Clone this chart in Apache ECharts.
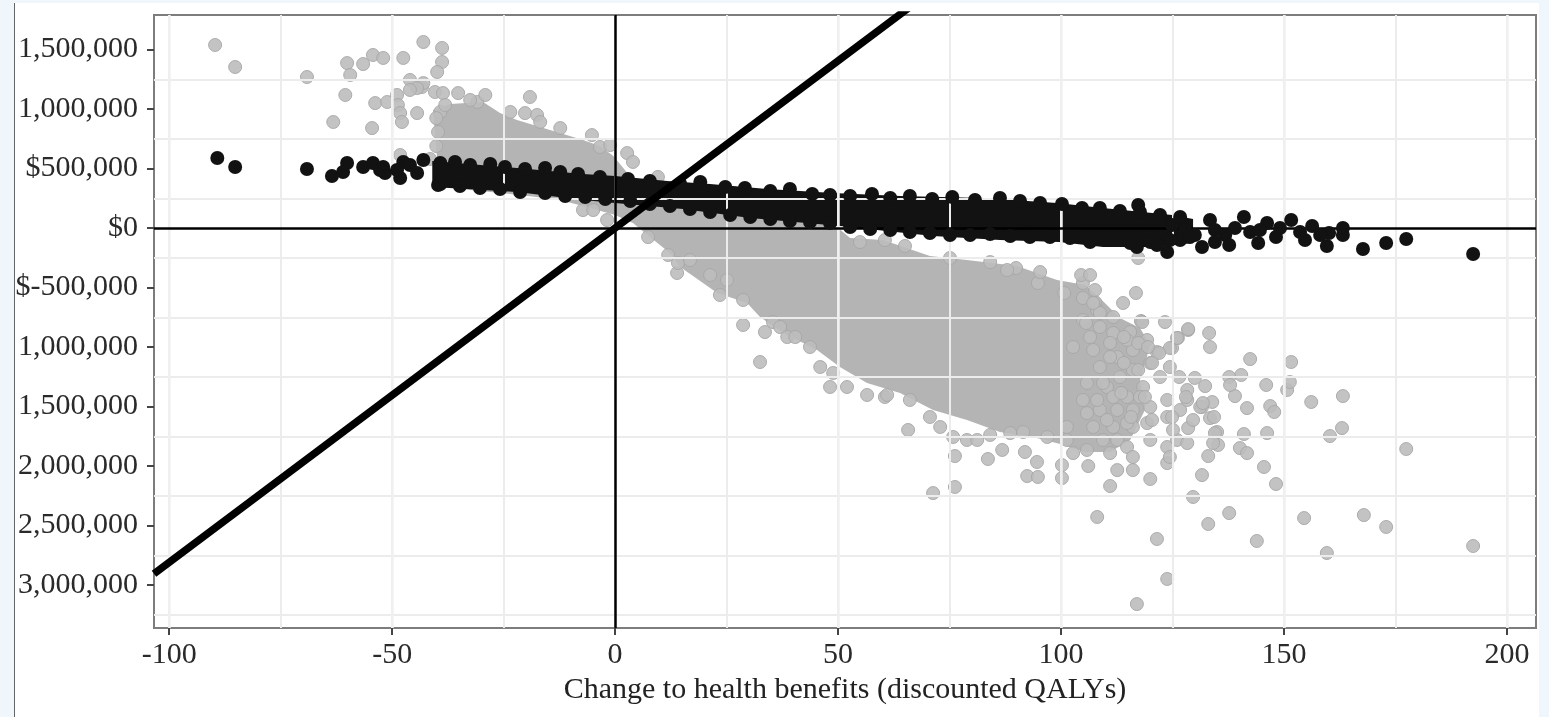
<!DOCTYPE html>
<html>
<head>
<meta charset="utf-8">
<script src="https://cdn.jsdelivr.net/npm/echarts@6/dist/echarts.min.js"></script>
<style>
html,body{margin:0;padding:0;background:#eff6fc;width:1549px;height:717px;overflow:hidden}
#paper{position:absolute;left:14px;top:3px;width:1525px;height:714px;background:#fff;border-left:1px solid #666;box-sizing:border-box}
#chart{position:absolute;left:0;top:0;width:1549px;height:717px}
</style>
</head>
<body>
<div id="paper"></div>
<div id="chart"></div>
<script>
// ---------- axis ticks & labels ----------
const xTicks = [-100, -50, 0, 50, 100, 150, 200];
const xTickLabels = ['-100', '-50', '0', '50', '100', '150', '200'];
const yTicks = [-3000000, -2500000, -2000000, -1500000, -1000000, -500000, 0, 500000, 1000000, 1500000];
const yTickLabels = ['3,000,000', '2,500,000', '2,000,000', '1,500,000', '1,000,000', '$-500,000', '$0', '$500,000', '1,000,000', '1,500,000'];
const xGridLines = [-100, -75, -50, -25, 0, 25, 50, 75, 100, 125, 150, 175, 200];
const yGridLines = [1250000, 750000, 250000, -250000, -750000, -1250000, -1750000, -2250000, -2750000, -3250000];
const xMajorOverlay = [-100, -50, 50, 100, 150, 200];
const xRange = [-103.4, 206.5];
const yRange = [-3361000, 1790000];
const xTitle = 'Change to health benefits (discounted QALYs)';
// willingness-to-pay threshold (cost per QALY)
const WTP = 28100;

// ---------- dense core of the grey cloud (outline) ----------
const grayCore = [
[-40.1,655000],[-40.8,992000],[-37.0,1042000],[-29.6,1059000],[-25.8,966000],[-22.0,908000],[-14.6,824000],[-7.2,739000],[-3.4,689000],[-0.4,605000],[2.2,487000],[5.6,319000],[19.1,193000],[39.2,109000],[50.0,0],[52.7,-84000],[60.1,-101000],[70.6,-235000],[78.9,-269000],[90.1,-319000],[99.1,-437000],[105.4,-479000],[108.7,-588000],[113.2,-756000],[117.7,-840000],[120.0,-983000],[117.7,-1277000],[118.8,-1529000],[115.5,-1781000],[111.0,-1882000],[105.4,-1882000],[99.8,-1815000],[93.7,-1756000],[86.3,-1714000],[78.9,-1613000],[71.3,-1529000],[63.9,-1386000],[56.5,-1302000],[50.4,-1168000],[45.3,-1025000],[37.7,-882000],[32.5,-748000],[29.6,-630000],[22.9,-546000],[14.6,-328000],[12.3,-210000],[7.8,-76000],[4.0,42000],[0,109000],[-5.6,168000],[-12.3,235000],[-21.3,277000],[-32.5,319000],[-39.2,361000]
];

// ---------- individual grey points ----------
const grayPts = [
[-89.7,1538000],[-85.2,1353000],[-69.1,1269000],[-63.2,891000],[-60.5,1118000],[-60.1,1386000],[-59.4,1286000],[-56.5,1378000],[-54.5,840000],[-54.3,1454000],[-53.8,1050000],[-52.0,1429000],[-51.1,1059000],[-48.9,1118000],[-48.7,1034000],[-48.2,966000],[-47.8,891000],[-48.2,613000],[-47.5,1429000],[-46.0,1244000],[-44.4,966000],[-43.3,1185000],[-43.0,1218000],[-43.0,1563000],[-38.8,1513000],[-38.8,1395000],[-39.9,1311000],[-40.4,1143000],[-38.6,1134000],[-44.4,1176000],[-46.0,1160000],[-35.2,1134000],[-30.9,1059000],[-29.1,1118000],[-19.1,1101000],[-20.2,966000],[-17.5,950000],[-16.8,891000],[-5.2,781000],[-3.4,681000],[2.7,630000],[4.0,555000],[9.6,429000],
[-39.2,975000],[-32.5,1076000],[-23.5,975000],[-12.3,840000],[-1.1,697000],[-40.1,924000],[-39.7,807000],[-40.1,689000],[-38.1,1034000],[-41.5,580000],
[-7.2,151000],[-4.9,151000],[-1.8,67000],
[7.4,-76000],[11.9,-227000],[13.9,-378000],[14.1,-294000],[16.8,-269000],[21.3,-395000],[23.5,-563000],[25.1,-437000],[28.7,-605000],[28.7,-815000],[33.6,-874000],[32.5,-1126000],[35.4,-790000],[37.0,-832000],[38.6,-916000],[40.4,-916000],[43.7,-1000000],[46.0,-1168000],[48.2,-1336000],[48.9,-1218000],[52.0,-1336000],[56.5,-1403000],[60.5,-1420000],[61.0,-1403000],[66.1,-1445000],[65.7,-1697000],[70.6,-1588000],[72.9,-1672000],[75.8,-1756000],[76.2,-1916000],[71.3,-2227000],[76.2,-2176000],[78.9,-1781000],[81.2,-1781000],[83.6,-1941000],[84.1,-1739000],[86.8,-1865000],[88.6,-1723000],[91.5,-1714000],[91.9,-1882000],[94.6,-1966000],[92.4,-2084000],[94.8,-2092000],[96.9,-1756000],[100.2,-2101000],[100.2,-1992000],[101.3,-1781000],[102.7,-1891000],[105.8,-1865000],[106.1,-2000000],[108.1,-2428000],[109.4,-1781000],[111.0,-1891000],[111.0,-2168000],[112.6,-1781000],[112.6,-2034000],[114.8,-1840000],[116.1,-1924000],[116.1,-2034000],[111.7,-1672000],[116.1,-1672000],[120.0,-1781000],[120.0,-2109000],[121.5,-2613000],[123.8,-2949000],[117.0,-3160000],[123.8,-1840000],[123.8,-1975000],[124.4,-1924000],[126.0,-1781000],[128.3,-1807000],[128.5,-1681000],[129.6,-2260000],[131.6,-2076000],[133.0,-1916000],[133.0,-2487000],[137.7,-2395000],[143.9,-2630000],[140.1,-1849000],[141.7,-1891000],[141.0,-1731000],[145.5,-2008000],[148.2,-2151000],[135.2,-1823000],[135.0,-1714000],[133.4,-1597000],[134.5,-1723000],[134.1,-1807000],[154.5,-2437000],[159.6,-2731000],[167.9,-2412000],[172.9,-2512000],[192.4,-2672000],[177.4,-1857000],[160.3,-1748000],[163.0,-1681000],[163.2,-1412000],[156.1,-1462000],[150.7,-1361000],[146.0,-1319000],[146.9,-1496000],[147.8,-1546000],[141.7,-1513000],[146.2,-1723000],[139.0,-1412000],[151.3,-1294000],[151.6,-1126000],[142.4,-1101000],[140.4,-1235000],[137.7,-1252000],[137.9,-1319000],[132.3,-1328000],[133.9,-1462000],[131.6,-1504000],[130.0,-1260000],[126.5,-1252000],[122.2,-1252000],[124.9,-1008000],[126.2,-924000],[133.4,-1000000],[133.2,-882000],[128.5,-857000],[123.3,-790000],[117.9,-781000],[116.8,-546000],[117.3,-252000],[108.1,-689000],[107.6,-622000],[104.9,-588000],[107.6,-521000],[104.9,-462000],[104.5,-395000],[106.5,-395000],[100.7,-546000],[94.8,-462000],[89.9,-336000],[87.9,-353000],
[54.9,-118000],[60.5,-101000],[65.0,-151000],[75.1,-252000],[84.1,-286000],[95.3,-370000],
[104.9,-773000],[108.7,-832000],[111.7,-882000],[115.5,-874000],[118.2,-790000],[128.5,-849000],[126.0,-924000],[124.4,-1008000],[121.5,-1042000],[119.3,-941000],[116.1,-1025000],[112.6,-1084000],[108.7,-1168000],[105.8,-1302000],[110.3,-1336000],[113.2,-1252000],[116.1,-1193000],[118.4,-1336000],[128.3,-1361000],[123.8,-1445000],[120.0,-1504000],[116.1,-1529000],[112.6,-1529000],[108.7,-1529000],[105.8,-1555000],[107.2,-1672000],[110.3,-1613000],[114.8,-1639000],[119.3,-1639000],[123.8,-1588000],[126.7,-1529000],[128.3,-1445000],[131.2,-1504000],[125.1,-1697000],[117.7,-1420000],[114.8,-1420000],[111.7,-1420000],[108.1,-1445000],[104.9,-1445000],[101.3,-1672000],[102.7,-1000000],[107.2,-1025000],[111.0,-966000],[120.0,-1134000],[124.4,-1168000],[114.8,-941000],[108.7,-714000],[111.7,-748000],[107.2,-630000],[113.9,-630000],[114.1,-916000],[117.3,-966000],[119.5,-1000000],[122.0,-1050000],[120.4,-1134000],[117.3,-1193000],[114.1,-1134000],[111.0,-1084000],[106.5,-916000],[105.6,-798000],[109.4,-1302000],[113.5,-1386000],[118.8,-1420000],[128.0,-1420000],[131.8,-1471000],[134.3,-1588000],[129.6,-1613000],[124.9,-1588000],[120.4,-1613000],[115.7,-1588000]
];

// ---------- dense black band (outline) ----------
const blackBand = [
[-41.0,563000],[-22.0,504000],[-7.2,454000],[0,437000],[11.7,395000],[21.3,370000],[34.1,328000],[48.9,294000],[63.9,269000],[82.5,252000],[99.1,210000],[109.4,168000],[124.9,109000],[129.6,76000],[129.6,-126000],[121.1,-160000],[109.4,-160000],[99.6,-118000],[86.3,-101000],[71.3,-67000],[50.4,17000],[30.3,84000],[15.2,160000],[0,210000],[-7.2,235000],[-22.0,302000],[-41.0,345000]
];

// ---------- individual black points ----------
const blackPts = [
[-89.2,588000],[-85.2,513000],[-69.1,496000],[-63.5,437000],[-60.1,546000],[-61.0,471000],[-56.5,513000],[-54.3,546000],[-52.0,513000],[-51.6,462000],[-47.5,555000],[-48.2,420000],[-44.4,462000],[-43.0,571000],[-39.2,546000],[-39.7,361000],[-52.7,487000],[-48.9,487000],[-46.0,529000],
[192.4,-218000],[177.4,-92000],[172.9,-126000],[167.7,-176000],[163.2,0],[163.2,-59000],[160.1,-42000],[159.6,-151000],[156.3,17000],[154.7,-101000],[151.6,67000],[148.2,-76000],[146.2,42000],[144.2,-126000],[141.0,92000],[137.7,-143000],[133.4,67000],[131.6,-160000],[123.8,-202000],[121.5,-143000],[117.0,-160000],[117.3,193000],
[124.9,25000],[127.8,-17000],[130.0,-59000],[134.5,-17000],[136.8,-59000],[139.0,0],[142.4,-34000],[126.7,-101000],[134.5,-118000],[144.6,-17000],[149.1,0],[153.6,-34000],[158.1,-59000],
[-39.2,538000],[-35.9,555000],[-32.5,530000],[-28.0,538000],[-24.7,513000],[-20.2,496000],[-15.7,504000],[-12.3,471000],[-8.3,454000],[-3.4,429000],[2.9,412000],[7.8,395000],[14.6,370000],[19.1,387000],[24.7,345000],[29.1,336000],[34.8,311000],[39.2,328000],[44.2,286000],[48.2,277000],[52.7,269000],[57.6,286000],[61.7,252000],[66.1,269000],[71.1,244000],[75.6,261000],[80.7,235000],[86.3,252000],[90.8,227000],[95.3,210000],[100.2,202000],[104.7,168000],[108.7,168000],[113.2,143000],[117.7,135000],[122.2,109000],[126.7,93000],
[-39.2,370000],[-34.8,353000],[-30.3,336000],[-25.8,328000],[-21.3,302000],[-15.7,294000],[-11.2,269000],[-6.7,260000],[-2.2,243000],[3.4,227000],[7.8,201000],[12.3,185000],[16.8,159000],[21.3,134000],[25.8,109000],[30.3,92000],[34.8,75000],[39.2,59000],[43.7,50000],[48.2,42000],[52.7,8000],[57.2,-9000],[61.7,-17000],[66.1,-34000],[70.6,-42000],[75.1,-59000],[79.6,-59000],[84.1,-51000],[88.6,-67000],[93.0,-76000],[97.5,-76000],[102.0,-84000],[106.5,-118000],[111.0,-101000],[115.5,-126000],[120.0,-118000],[124.4,-101000],[128.9,-76000]
];

// ---------- chart ----------
const FONT = "'Liberation Serif','DejaVu Serif',serif";
const chart = echarts.init(document.getElementById('chart'), null, {renderer: 'canvas', width: 1549, height: 717});

function polygonSeries(outline, fill, z) {
  return {
    type: 'custom',
    z: z,
    silent: true,
    data: outline,
    renderItem: function (params, api) {
      if (params.dataIndex !== 0) return null;
      return {
        type: 'polygon',
        shape: {points: outline.map(p => api.coord(p))},
        style: {fill: fill}
      };
    }
  };
}

function lineMarks(name, values, axisKey, color, width, z) {
  return {
    name: name,
    type: 'line',
    z: z,
    silent: true,
    data: [],
    markLine: {
      silent: true,
      symbol: ['none', 'none'],
      label: {show: false},
      animation: false,
      lineStyle: {color: color, width: width, type: 'solid'},
      data: values.map(v => ({[axisKey]: v}))
    }
  };
}

const option = {
  animation: false,
  backgroundColor: 'transparent',
  grid: {
    left: 154, right: 13, top: 15, bottom: 89,
    show: true, backgroundColor: '#ffffff', borderColor: '#7d7d7d', borderWidth: 2
  },
  xAxis: {
    type: 'value', min: xRange[0], max: xRange[1],
    name: xTitle, nameLocation: 'middle', nameGap: 45,
    nameTextStyle: {fontFamily: FONT, fontSize: 30, color: '#222'},
    axisLine: {show: true, onZero: false, lineStyle: {color: '#7d7d7d', width: 2}},
    axisTick: {show: true, length: 7, customValues: xTicks, lineStyle: {color: '#444', width: 2}},
    axisLabel: {
      customValues: xTicks, margin: 12,
      fontFamily: FONT, fontSize: 30, color: '#2a2a2a',
      formatter: v => xTickLabels[xTicks.indexOf(v)]
    },
    splitLine: {show: false}
  },
  yAxis: {
    type: 'value', min: yRange[0], max: yRange[1],
    axisLine: {show: true, onZero: false, lineStyle: {color: '#7d7d7d', width: 2}},
    axisTick: {show: true, length: 7, customValues: yTicks, lineStyle: {color: '#444', width: 2}},
    axisLabel: {
      customValues: yTicks, margin: 16,
      fontFamily: FONT, fontSize: 30, color: '#2a2a2a',
      formatter: v => yTickLabels[yTicks.indexOf(v)]
    },
    splitLine: {show: false}
  },
  series: [
    lineMarks('gridX', xGridLines, 'xAxis', '#ececec', 2, 1),
    lineMarks('gridY', yGridLines, 'yAxis', '#ececec', 2, 1),
    polygonSeries(grayCore, '#b4b4b4', 2),
    {
      name: 'grey', type: 'scatter', z: 3, silent: true,
      symbolSize: 13, data: grayPts,
      itemStyle: {color: '#bdbdbd', opacity: 0.9, borderColor: '#a6a6a6', borderWidth: 1}
    },
    polygonSeries(blackBand, '#121212', 4),
    {
      name: 'black', type: 'scatter', z: 5, silent: true,
      symbolSize: 14, data: blackPts,
      itemStyle: {color: '#121212', opacity: 1}
    },
    {
      name: 'threshold', type: 'line', z: 6, silent: true, clip: true,
      showSymbol: false, symbol: 'none',
      data: [[xRange[0], xRange[0] * WTP], [xRange[1], xRange[1] * WTP]],
      lineStyle: {color: '#000', width: 7.5}
    },
    lineMarks('majorX', xMajorOverlay, 'xAxis', '#f0f0f0', 2.5, 7),
    lineMarks('zeroX', [0], 'xAxis', '#000', 2.5, 8),
    lineMarks('zeroY', [0], 'yAxis', '#000', 2.5, 8)
  ]
};
chart.setOption(option);
</script>
</body>
</html>
